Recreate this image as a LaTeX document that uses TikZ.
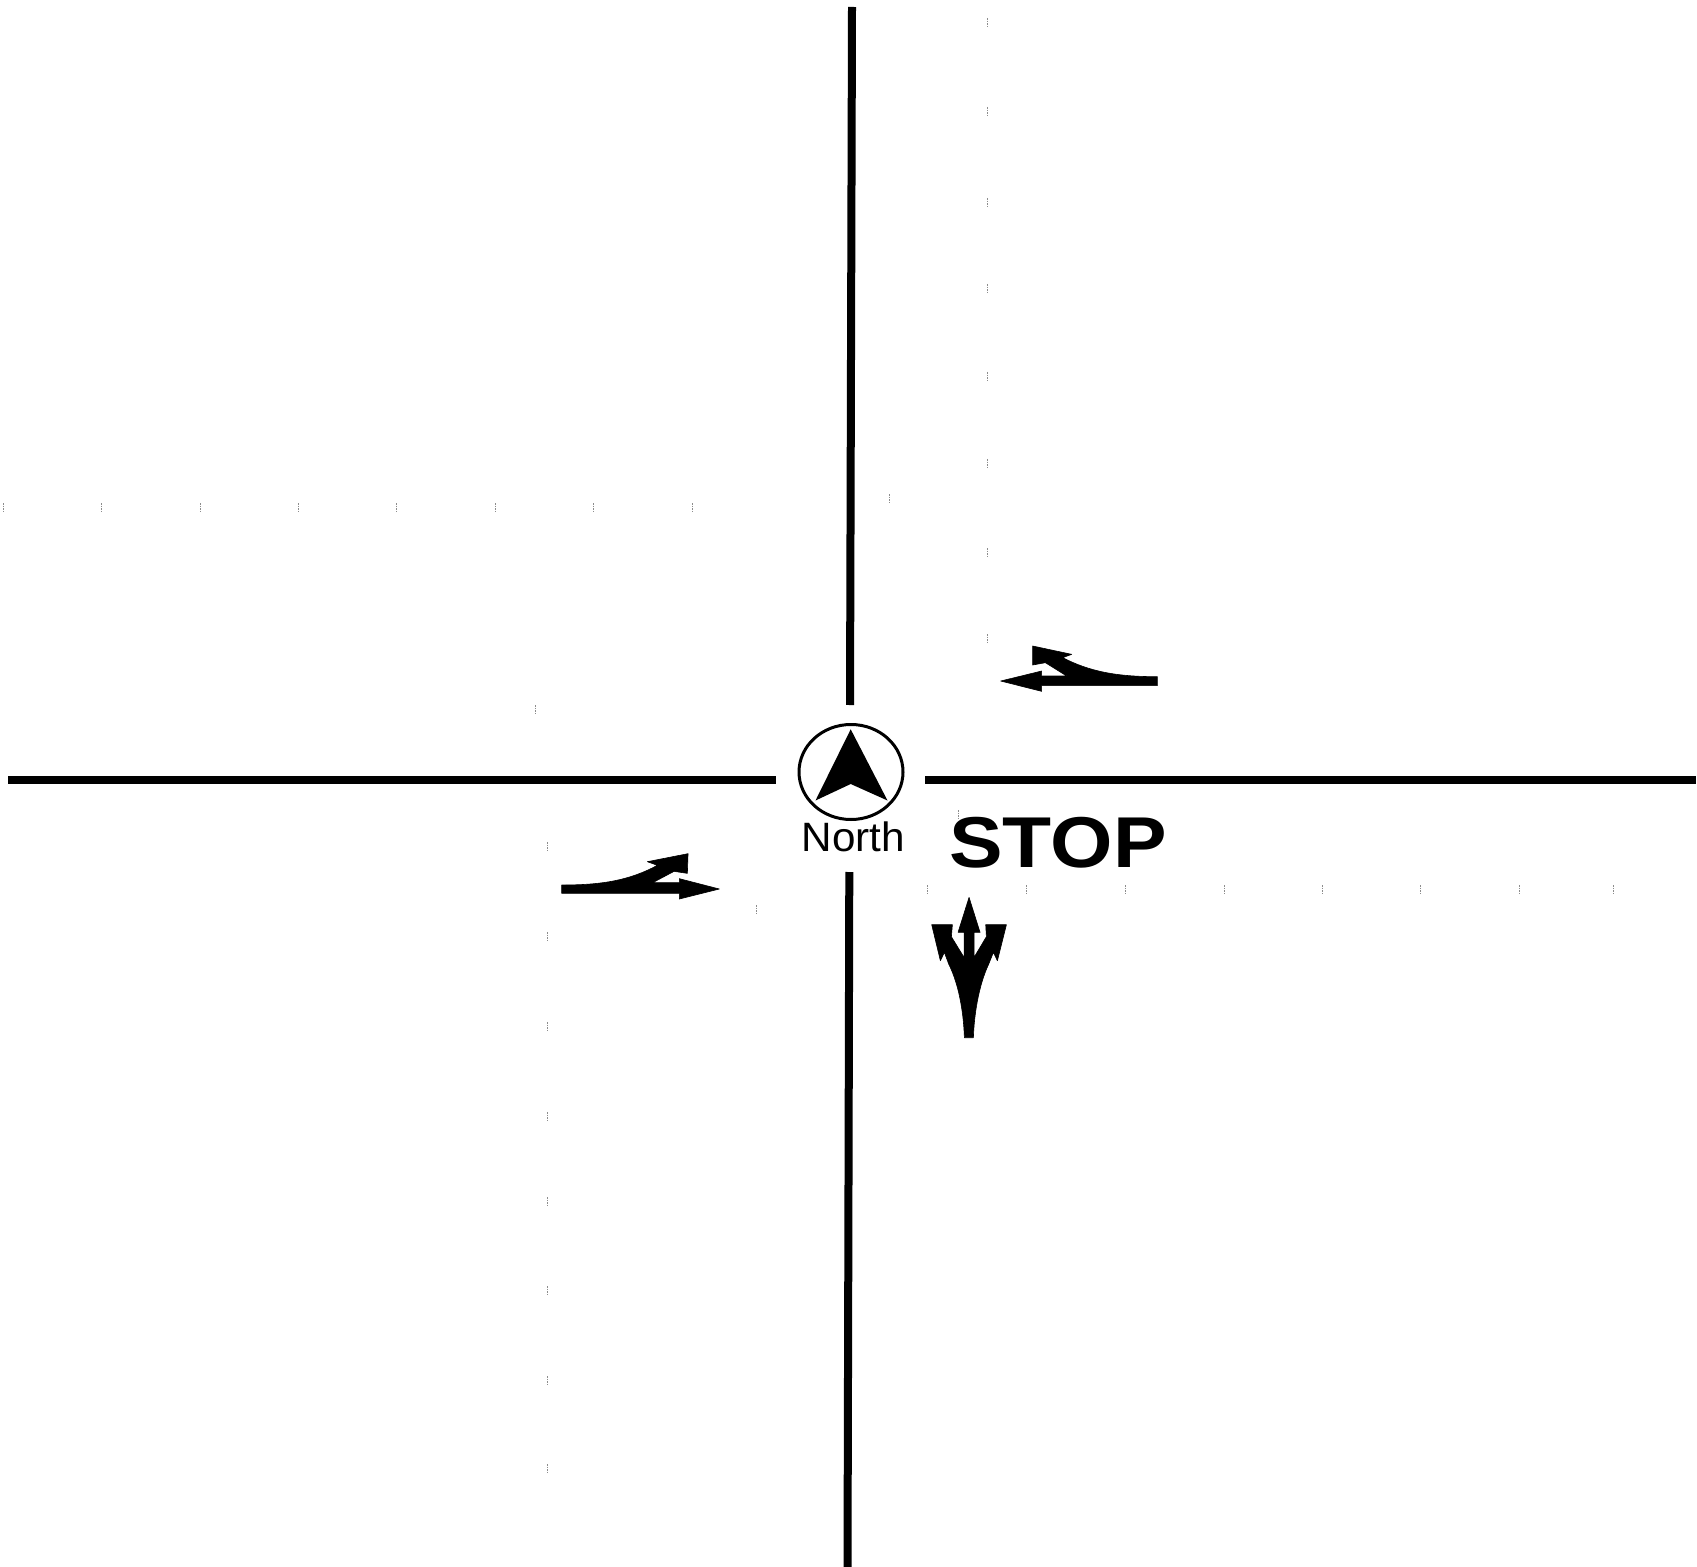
\documentclass[tikz,border=0pt]{standalone}
\usepackage{fontspec}
\setmainfont{Liberation Sans}
\tikzset{
  road/.style={line width=4pt,black,line cap=butt},
  glyph/.style={fill=black,draw=black,line width=0.3pt,line join=round},
  speck/.style={line width=0.5pt,black!45,dash pattern=on 0.8pt off 0.5pt},
  lbl/.style={inner sep=0pt,outer sep=0pt,anchor=base}
}
\begin{document}
\begin{tikzpicture}[x=0.5pt,y=-0.5pt]
\useasboundingbox (0,0) rectangle (1697,1567);
% roads
\coordinate (nTop) at (852,7);
\coordinate (nEnd) at (850,705);
\coordinate (sTop) at (849.3,872);
\coordinate (sEnd) at (847.5,1567);
\coordinate (wTop) at (8,779.5);
\coordinate (wEnd) at (776,779.5);
\coordinate (eTop) at (925,779.5);
\coordinate (eEnd) at (1696,779.5);
\draw[road] (nTop) -- (nEnd);
\draw[road] (sTop) -- (sEnd);
\draw[road] (wTop) -- (wEnd);
\draw[road] (eTop) -- (eEnd);
% compass
\draw[black,line width=1.5pt] (851,772) ellipse [x radius=52, y radius=47.5];
\fill[black] (850.7,729.3) -- (887.5,800.5) -- (850.7,784) -- (815.5,800.5) -- cycle;
\node[lbl,xscale=1.03] (north) at (853.5,851.5) {\fontsize{20.5}{20.5}\selectfont North};
% stop
\node[lbl,xscale=1.115] (stop) at (1058,867) {\fontsize{36}{36}\selectfont\bfseries STOP};
% trident arrow
\begin{scope}[shift={(760,690)},x=0.1667pt,y=-0.1667pt]
\draw[glyph] (613,1043) .. controls (611,980) and (600,890) .. (566,822)
  -- (553,787) -- (541,812) -- (515,704) -- (577,704) -- (574,740)
  -- (612,802) -- (612,727) -- (594,727) -- (627,622) -- (660,727) -- (642,727)
  -- (642,802) -- (679,740) -- (677,704) -- (739,704) -- (712,812) -- (700,787)
  -- (686,822) .. controls (654,890) and (642,980) .. (640,1043) -- cycle;
\end{scope}
% eastbound arrow
\begin{scope}[shift={(540,830)},x=0.1667pt,y=-0.1667pt]
\draw[glyph] (65,165) .. controls (190,165) and (270,150) .. (352,106)
  -- (322,95) -- (444,71) -- (442,130) -- (402,124) -- (338,158) -- (418,158)
  -- (418,146) -- (538,177) -- (418,207) -- (418,190) -- (65,190) -- cycle;
\end{scope}
% westbound arrow
\begin{scope}[shift={(970,620)},x=0.1667pt,y=-0.1667pt]
\draw[glyph] (562,170) .. controls (440,170) and (360,155) .. (278,113)
  -- (305,103) -- (188,78) -- (188,135) -- (226,128) -- (290,168) -- (215,168)
  -- (215,153) -- (92,183) -- (215,214) -- (215,197) -- (562,197) -- cycle;
\end{scope}
% faint marks
\foreach \x/\y in {987/22,987/111,987/202,987/288,987/376,987/463,987/552,987/638,
  889/498,535/709,958/814,756/909,
  547/846,547/936,547/1026,547/1116,547/1201,547/1290,547/1380,547/1468,
  3/507,101/507,200/507,298/507,396/507,495/507,593/507,692/507,
  927/889,1026/889,1125/889,1224/889,1322/889,1420/889,1519/889,1613/889}
  \draw[speck] (\x,\y-4) -- (\x,\y+4);
\end{tikzpicture}
\end{document}
